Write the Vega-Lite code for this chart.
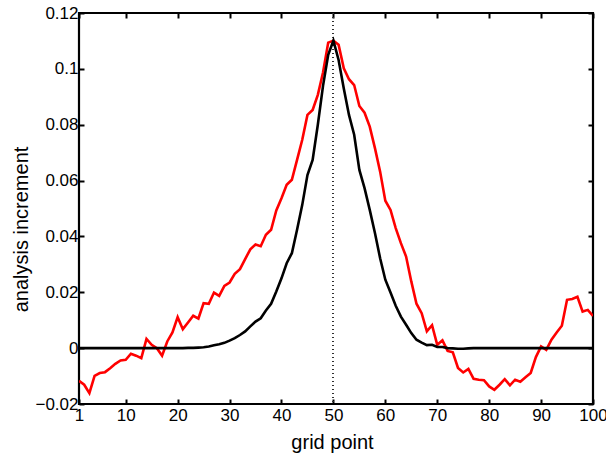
{
  "$schema": "https://vega.github.io/schema/vega-lite/v6.json",
  "autosize": {"type": "none"},
  "padding": {"left": 79, "top": 13, "right": 13, "bottom": 51},
  "width": 514,
  "height": 391,
  "background": "white",
  "config": {
    "view": {"stroke": "black", "strokeWidth": 2.2},
    "font": "Liberation Sans",
    "axis": {
      "grid": false,
      "domain": false,
      "tickColor": "black",
      "tickWidth": 2,
      "tickSize": -5,
      "labelFlush": false,
      "labelOverlap": false,
      "labelColor": "black",
      "labelFont": "Liberation Sans",
      "labelFontSize": 17,
      "titleFont": "Liberation Sans",
      "titleFontSize": 20,
      "titleFontWeight": "normal",
      "titleColor": "black"
    }
  },
  "data": {
    "values": [
      {"x": 1, "a": 0, "r": -0.0117},
      {"x": 2, "a": 0, "r": -0.0131},
      {"x": 3, "a": 0, "r": -0.0161},
      {"x": 4, "a": 0, "r": -0.0099},
      {"x": 5, "a": 0, "r": -0.0089},
      {"x": 6, "a": 0, "r": -0.0086},
      {"x": 7, "a": 0, "r": -0.0072},
      {"x": 8, "a": 0, "r": -0.0056},
      {"x": 9, "a": 0, "r": -0.0044},
      {"x": 10, "a": 0, "r": -0.0042},
      {"x": 11, "a": 0, "r": -0.002},
      {"x": 12, "a": 0, "r": -0.0027},
      {"x": 13, "a": 0, "r": -0.0036},
      {"x": 14, "a": 0, "r": 0.0033},
      {"x": 15, "a": 0, "r": 0.0012},
      {"x": 16, "a": 0, "r": 0},
      {"x": 17, "a": 0, "r": -0.0027},
      {"x": 18, "a": 0, "r": 0.0024},
      {"x": 19, "a": 0, "r": 0.0056},
      {"x": 20, "a": 0, "r": 0.0111},
      {"x": 21, "a": 0, "r": 0.0068},
      {"x": 22, "a": 0.0001, "r": 0.0092},
      {"x": 23, "a": 0.0001, "r": 0.0116},
      {"x": 24, "a": 0.0002, "r": 0.0106},
      {"x": 25, "a": 0.0003, "r": 0.0161},
      {"x": 26, "a": 0.0006, "r": 0.0159},
      {"x": 27, "a": 0.001, "r": 0.0199},
      {"x": 28, "a": 0.0014, "r": 0.0187},
      {"x": 29, "a": 0.0019, "r": 0.0223},
      {"x": 30, "a": 0.0027, "r": 0.0235},
      {"x": 31, "a": 0.0036, "r": 0.0266},
      {"x": 32, "a": 0.0047, "r": 0.0283},
      {"x": 33, "a": 0.006, "r": 0.0319},
      {"x": 34, "a": 0.0078, "r": 0.0354},
      {"x": 35, "a": 0.0095, "r": 0.0371},
      {"x": 36, "a": 0.0107, "r": 0.0365},
      {"x": 37, "a": 0.0135, "r": 0.0406},
      {"x": 38, "a": 0.0159, "r": 0.0424},
      {"x": 39, "a": 0.0203, "r": 0.0493},
      {"x": 40, "a": 0.025, "r": 0.0537},
      {"x": 41, "a": 0.0304, "r": 0.0585},
      {"x": 42, "a": 0.034, "r": 0.0603},
      {"x": 43, "a": 0.0424, "r": 0.0674},
      {"x": 44, "a": 0.0513, "r": 0.0746},
      {"x": 45, "a": 0.062, "r": 0.0835},
      {"x": 46, "a": 0.0674, "r": 0.0853},
      {"x": 47, "a": 0.08, "r": 0.0907},
      {"x": 48, "a": 0.0939, "r": 0.0987},
      {"x": 49, "a": 0.105, "r": 0.1094},
      {"x": 50, "a": 0.1101, "r": 0.1101},
      {"x": 51, "a": 0.1032, "r": 0.1086},
      {"x": 52, "a": 0.093, "r": 0.1002},
      {"x": 53, "a": 0.0835, "r": 0.0963},
      {"x": 54, "a": 0.0764, "r": 0.0942},
      {"x": 55, "a": 0.0638, "r": 0.0867},
      {"x": 56, "a": 0.0573, "r": 0.0843},
      {"x": 57, "a": 0.0495, "r": 0.0793},
      {"x": 58, "a": 0.0412, "r": 0.0716},
      {"x": 59, "a": 0.0322, "r": 0.0632},
      {"x": 60, "a": 0.0245, "r": 0.0528},
      {"x": 61, "a": 0.0199, "r": 0.0495},
      {"x": 62, "a": 0.0152, "r": 0.043},
      {"x": 63, "a": 0.0113, "r": 0.0376},
      {"x": 64, "a": 0.0084, "r": 0.0328},
      {"x": 65, "a": 0.0054, "r": 0.0239},
      {"x": 66, "a": 0.003, "r": 0.0159},
      {"x": 67, "a": 0.002, "r": 0.0125},
      {"x": 68, "a": 0.0011, "r": 0.006},
      {"x": 69, "a": 0.0012, "r": 0.0082},
      {"x": 70, "a": 0.0004, "r": 0.0012},
      {"x": 71, "a": 0.0004, "r": 0.0028},
      {"x": 72, "a": 0, "r": -0.001},
      {"x": 73, "a": -0.0001, "r": -0.0015},
      {"x": 74, "a": -0.0002, "r": -0.0071},
      {"x": 75, "a": -0.0002, "r": -0.0087},
      {"x": 76, "a": -0.0001, "r": -0.0074},
      {"x": 77, "a": 0, "r": -0.011},
      {"x": 78, "a": 0, "r": -0.0113},
      {"x": 79, "a": 0, "r": -0.0115},
      {"x": 80, "a": 0, "r": -0.0137},
      {"x": 81, "a": 0, "r": -0.0149},
      {"x": 82, "a": 0, "r": -0.0131},
      {"x": 83, "a": 0, "r": -0.0111},
      {"x": 84, "a": 0, "r": -0.0133},
      {"x": 85, "a": 0, "r": -0.0113},
      {"x": 86, "a": 0, "r": -0.012},
      {"x": 87, "a": 0, "r": -0.0104},
      {"x": 88, "a": 0, "r": -0.0089},
      {"x": 89, "a": 0, "r": -0.0032},
      {"x": 90, "a": 0, "r": 0.0006},
      {"x": 91, "a": 0, "r": -0.0006},
      {"x": 92, "a": 0, "r": 0.003},
      {"x": 93, "a": 0, "r": 0.0056},
      {"x": 94, "a": 0, "r": 0.008},
      {"x": 95, "a": 0, "r": 0.0173},
      {"x": 96, "a": 0, "r": 0.0176},
      {"x": 97, "a": 0, "r": 0.0184},
      {"x": 98, "a": 0, "r": 0.0131},
      {"x": 99, "a": 0, "r": 0.0137},
      {"x": 100, "a": 0, "r": 0.0115}
    ]
  },
  "layer": [
    {
      "mark": {"type": "rule", "color": "#333333", "strokeWidth": 1, "strokeDash": [1, 3]},
      "encoding": {
        "x": {"datum": 50, "type": "quantitative", "axis": null}
      }
    },
    {
      "mark": {"type": "line", "color": "#ff0000", "strokeWidth": 2.6, "clip": true},
      "encoding": {
        "x": {
          "field": "x", "type": "quantitative",
          "scale": {"domain": [1, 100], "nice": false, "zero": false},
          "axis": {"orient": "top", "values": [1, 10, 20, 30, 40, 50, 60, 70, 80, 90, 100], "labels": false, "title": null}
        },
        "y": {
          "field": "r", "type": "quantitative",
          "scale": {"domain": [-0.02, 0.12], "nice": false, "zero": false},
          "axis": {"orient": "right", "values": [-0.02, 0, 0.02, 0.04, 0.06, 0.08, 0.1, 0.12], "labels": false, "title": null}
        }
      }
    },
    {
      "mark": {"type": "line", "color": "#000000", "strokeWidth": 2.6, "clip": true},
      "encoding": {
        "x": {
          "field": "x", "type": "quantitative",
          "axis": {"orient": "bottom", "values": [1, 10, 20, 30, 40, 50, 60, 70, 80, 90, 100], "title": "grid point", "labelPadding": 8, "titleX": 253, "titleY": 44, "titleBaseline": "alphabetic", "titleAlign": "center"}
        },
        "y": {
          "field": "a", "type": "quantitative",
          "axis": {"orient": "left", "values": [-0.02, 0, 0.02, 0.04, 0.06, 0.08, 0.1, 0.12], "format": ".2~f", "title": "analysis increment", "labelPadding": 6, "titleX": -52, "titleY": 216, "titleAngle": -90, "titleBaseline": "alphabetic", "titleAlign": "center"}
        }
      }
    }
  ],
  "resolve": {"axis": {"x": "independent", "y": "independent"}}
}
